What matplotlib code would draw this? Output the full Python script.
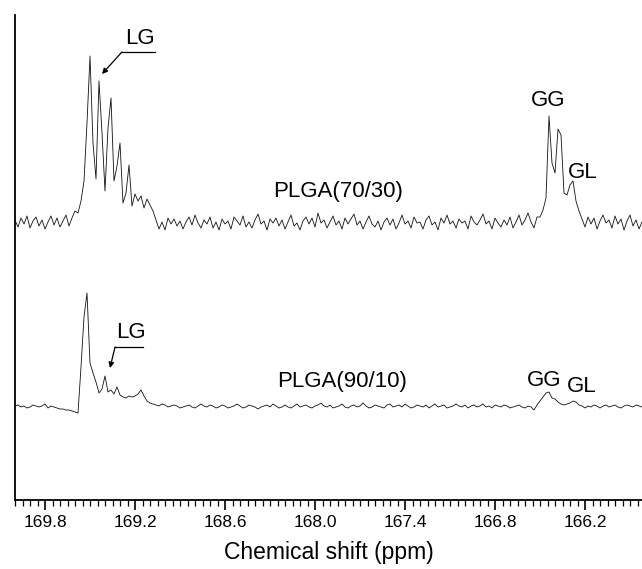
"""13C NMR carbonyl region of two PLGA copolymers, stacked traces."""

import matplotlib

matplotlib.use("Agg")
import matplotlib.pyplot as plt
import numpy as np
from matplotlib.ticker import FixedLocator, MultipleLocator, FormatStrFormatter

plt.rcParams["font.family"] = ["Liberation Sans", "DejaVu Sans"]

# --------------------------------------------------------------------------- #
# Data (intensity in arbitrary units above baseline)
# --------------------------------------------------------------------------- #

ppm_start = 170.00
ppm_step = 0.02
n_points = 210

plga_70_30 = [
    3, -4, 5, -1, 7, -5, 2, 6, -3, 3, -6, 1, 7, -2, 5, -4, 2, 8, -3, 5, 12,
    # LG multiplet
    10, 22, 42, 100, 167, 80, 44, 142, 90, 32, 95, 125, 42, 57, 80, 20, 30,
    58, 17, 29, 22, 27, 15, 24, 18, 12, 3,
    # baseline
    -6, 1, -7, 5, -1, 4, -3, 2, -6, 1,
    6, -2, 8, 0, -5, 3, -1, 6, -5, 1,
    -7, 4, -1, 2, -6, 6, 2, -2, 7, -4,
    1, -5, 3, 9, -1, 2, -7, 4, 0, 5,
    -3, 3, -6, 1, 8, -3, 0, -7, 2, 6,
    -1, 5, -4, 10, 0, 3, -5, 1, 7, -2,
    2, -6, 5, -1, 4, 9, -2, 2, -6, 1,
    7, -1, -4, 2, -7, 1, 5, -2, 4, -6,
    0, 8, -1, 2, -5, 6, 0, 1, -6, 3,
    7, -2, 1, -7, 5, 0, 8, -1, 2, -5,
    4, 0, 2, -6, 7, 1, -2, 3, 9, -1,
    2, -6, 5, 0, -4, 3, -2, 6, -5, 1,
    8, -2, 3, 10, 1, -5, 6,
    # GG / GL
    6, 13, 25, 107, 60, 50, 94, 88, 30, 28, 38, 42, 22, 12, 4,
    # baseline
    -4, 6, -1, 5, -6, 2, 8, 0, 3, -5, 7, -1, 4, -7, 2, 8, -3, 3, -6, 1,
]

plga_90_10 = [
    1, 2, 0, 1, -1, 0, 2, 1, 0, 1, 3, -1, 1, 0, -1, -2, -2, -3, -3, -4, -5,
    # LG region
    -6, 40, 90, 114, 44, 34, 25, 14, 18, 31, 15, 17, 13, 20, 12, 10, 9, 11,
    10, 11, 13, 17, 11, 6, 4, 3,
    # baseline
    2, 1, 3, 2, 0, 1, 2, 1, -1, 0,
    1, 2, 0, -1, 1, 3, 1, 0, 2, 1,
    -1, 0, 2, 1, -1, 0, 1, 3, 1, -1,
    0, 2, 1, 0, -2, 0, 1, 2, 0, 3,
    1, -1, 0, 2, 0, -1, 1, 3, 0, 1,
    2, 0, -1, 1, 2, 4, 1, 0, 2, -1,
    0, 1, 3, 0, -1, 1, 2, 0, 1, 4,
    1, -1, 0, 2, 1, 0, -1, 2, 3, 0,
    1, 2, 0, 3, 1, -1, 0, 2, 1, 0,
    2, -1, 1, 3, 0, 1, 2, -1, 0, 1,
    3, 1, 0, 2, -1, 1, 2, 0, 1, 3,
    0, 1, -1, 2, 1, 0, 2, 1, -1, 0,
    1, 2, 0, -1, 1, 0,
    # GG / GL
    -3, 2, 6, 10, 14, 15, 9, 8, 5, 3, 2, 3, 4, 6, 5, 2, 1, -1,
    # baseline
    1, 0, 2, 1, -1, 1, 2, 0, 1, 2, 0, -1, 1, 2, 1, 0, 2, 1, 0,
]

major_ticks = [169.8, 169.2, 168.6, 168.0, 167.4, 166.8, 166.2]

ppm = ppm_start - ppm_step * np.arange(n_points)

# --------------------------------------------------------------------------- #
# Figure
# --------------------------------------------------------------------------- #

fig = plt.figure(figsize=(6.42, 5.69), dpi=100)
ax = fig.add_axes([15 / 642, 69 / 569, 627 / 642, 485 / 569])

upper_offset = 277
lower_offset = 93

ax.plot(ppm, np.array(plga_70_30) + upper_offset, color="#111111", lw=0.6)
ax.plot(ppm, np.array(plga_90_10) + lower_offset, color="#111111", lw=0.6)

ax.set_xlim(170.0, 165.82)
ax.set_ylim(0, 485)

for side in ("top", "right"):
    ax.spines[side].set_visible(False)
ax.spines["left"].set_linewidth(1.3)
ax.spines["bottom"].set_linewidth(1.3)

ax.xaxis.set_major_locator(FixedLocator(major_ticks))
ax.xaxis.set_minor_locator(MultipleLocator(0.05))
ax.xaxis.set_major_formatter(FormatStrFormatter("%.1f"))
ax.tick_params(axis="x", which="major", direction="out", length=7, width=1.2,
               labelsize=12.5, pad=4)
ax.tick_params(axis="x", which="minor", direction="out", length=4, width=0.9)
ax.tick_params(axis="y", left=False, labelleft=False)
ax.set_xlabel("Chemical shift (ppm)", fontsize=16.5, labelpad=8)

txt = dict(fontsize=16, ha="center", va="center")

# upper trace labels
ax.text(169.167, 462, "LG", **txt)
ax.plot([169.287, 169.067], [448, 448], color="black", lw=0.9)
ax.annotate("", xy=(169.42, 426), xytext=(169.287, 448),
            arrowprops=dict(arrowstyle="-|>", color="black", lw=0.9,
                            mutation_scale=8, shrinkA=0, shrinkB=0))
ax.text(167.847, 309, "PLGA(70/30)", **txt)
ax.text(166.447, 400, "GG", **txt)
ax.text(166.213, 328, "GL", **txt)

# lower trace labels
ax.text(169.227, 167, "LG", **txt)
ax.plot([169.333, 169.147], [153, 153], color="black", lw=0.9)
ax.annotate("", xy=(169.367, 132), xytext=(169.333, 153),
            arrowprops=dict(arrowstyle="-|>", color="black", lw=0.9,
                            mutation_scale=8, shrinkA=0, shrinkB=0))
ax.text(167.82, 118, "PLGA(90/10)", **txt)
ax.text(166.473, 120, "GG", **txt)
ax.text(166.22, 113, "GL", **txt)

fig.savefig("out.png", dpi=100)
plt.close(fig)
